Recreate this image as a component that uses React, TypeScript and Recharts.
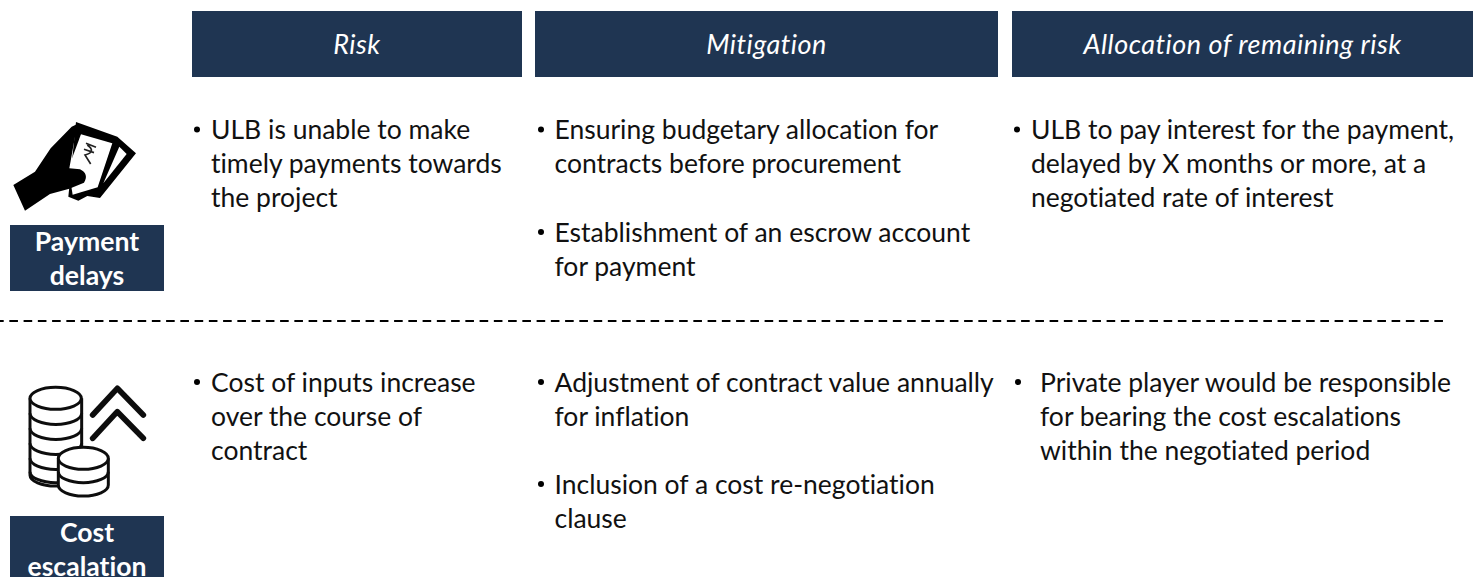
import React from "react";
import { ComposedChart, XAxis, YAxis, ReferenceArea, ReferenceLine, Customized, Line } from "recharts";

const W = 1473;
const H = 577;
const NAVY = "#1f3552";
const FONT = "Lato, 'Noto Sans', sans-serif";

// Content
const columnTitles = ["Risk", "Mitigation", "Allocation of remaining risk"];
const rowTitles = [["Payment", "delays"], ["Cost", "escalation"]];
const paymentRisk = [["ULB is unable to make", "timely payments towards", "the project"]];
const paymentMitigation = [
  ["Ensuring budgetary allocation for", "contracts before procurement"],
  ["Establishment of an escrow account", "for payment"],
];
const paymentAllocation = [["ULB to pay interest for the payment,", "delayed by X months or more, at a", "negotiated rate of interest"]];
const costRisk = [["Cost of inputs increase", "over the course of", "contract"]];
const costMitigation = [
  ["Adjustment of contract value annually", "for inflation"],
  ["Inclusion of a cost re-negotiation", "clause"],
];
const costAllocation = [["Private player would be responsible", "for bearing the cost escalations", "within the negotiated period"]];

// Layout
const headerBoxes = [[192, 522], [535, 998], [1012, 1473]];
const rowBoxes = [[225, 291], [516, 577]];
const LINE = 34;
const blocks = [
  { items: paymentRisk, bx: 197, tx: 211, ys: [138.5] },
  { items: paymentMitigation, bx: 541, tx: 554.5, ys: [138.5, 241] },
  { items: paymentAllocation, bx: 1017, tx: 1031, ys: [138.5] },
  { items: costRisk, bx: 197, tx: 211, ys: [391] },
  { items: costMitigation, bx: 541, tx: 554.5, ys: [391, 493] },
  { items: costAllocation, bx: 1018, tx: 1040, ys: [391] },
];

const headerShape = (title: string) => (p: any) => (
  <g fontFamily={FONT} style={{ fontVariantLigatures: "none" }}>
    <rect x={p.x} y={p.y} width={p.width} height={p.height} fill={NAVY} />
    <text x={p.x + p.width / 2} y={p.y + 43} fill="#fff" fontSize={27} fontStyle="italic" letterSpacing={0.5} textAnchor="middle">{title}</text>
  </g>
);

const rowShape = (lines: string[]) => (p: any) => (
  <g fontFamily={FONT} style={{ fontVariantLigatures: "none" }}>
    <rect x={p.x} y={p.y} width={p.width} height={p.height} fill={NAVY} />
    {lines.map((l, j) => (
      <text key={l} x={p.x + p.width / 2} y={p.y + 26 + j * 34} fill="#fff" fontSize={26.6} fontWeight={700} textAnchor="middle">{l}</text>
    ))}
  </g>
);

const Body = () => (
  <g fontFamily={FONT} style={{ fontVariantLigatures: "none" }}>
    {blocks.map((b, bi) =>
      b.items.map((lines, ii) => (
        <g key={`${bi}-${ii}`}>
          <circle cx={b.bx} cy={b.ys[ii] - 9} r={3} fill="#000" />
          {lines.map((l, li) => (
            <text key={l} x={b.tx} y={b.ys[ii] + 0.5 + li * LINE} fill="#111" fontSize={26.5}>{l}</text>
          ))}
        </g>
      ))
    )}
    <g transform="translate(0,100) scale(0.3333)" filter="url(#soft)">
      <path d="M228 66 L352 110 L408 160 L300 294 L262 288 L235 302 L205 290 Z" fill="#000" />
      <path d="M243 103 L337 130 L293 262 L218 284 L205 205 Z" fill="#fff" />
      <path d="M358 140 L380 162 L310 250 Z" fill="#fff" />
      <path d="M40 255 L105 215 L152 145 L215 80 L232 72 L208 205 L240 208 Q268 222 252 248 L208 266 L150 282 L75 332 Z" fill="#000" />
      <path d="M258 130 L288 142 M252 148 L282 158 M262 135 Q290 155 255 165 L272 192" stroke="#222" strokeWidth={5} fill="none" />
    </g>
    <g transform="translate(0,370) scale(0.3333)" stroke="#111" strokeWidth={9} fill="#fff" filter="url(#soft)">
      <path d="M90 85 L90 315 A77 33 0 0 0 245 315 L245 85" />
      <ellipse cx={167} cy={85} rx={77} ry={33} />
      {[130, 175, 220, 265, 305].map((y) => (
        <path key={y} d={`M90 ${y} A77 33 0 0 0 245 ${y}`} fill="none" />
      ))}
      <path d="M175 265 L175 345 A75 33 0 0 0 325 345 L325 265" />
      <ellipse cx={250} cy={265} rx={75} ry={33} />
      <path d="M175 305 A75 33 0 0 0 325 305" fill="none" />
      <path d="M278 135 L352 55 L430 135 M278 205 L352 125 L430 205" fill="none" strokeWidth={17} strokeLinecap="round" strokeLinejoin="round" />
    </g>
  </g>
);

export default function App() {
  return (
    <div style={{ position: "absolute", left: 0, top: 0 }}>
      <svg width={0} height={0} style={{ position: "absolute" }}>
        <defs>
          <filter id="soft"><feGaussianBlur stdDeviation={0.5} /></filter>
        </defs>
      </svg>
      <ComposedChart width={W} height={H} data={[{ x: 0, y: 0 }, { x: W, y: H }]} margin={{ top: 0, right: 0, bottom: 0, left: 0 }}>
        <XAxis type="number" dataKey="x" domain={[0, W]} hide />
        <YAxis type="number" dataKey="y" domain={[0, H]} reversed hide />
        <Line dataKey="y" stroke="none" dot={false} legendType="none" isAnimationActive={false} />
        {headerBoxes.map(([a, b], i) => (
          <ReferenceArea key={a} x1={a} x2={b} y1={11} y2={77} shape={headerShape(columnTitles[i])} />
        ))}
        {rowBoxes.map(([a, b], i) => (
          <ReferenceArea key={a} x1={10} x2={164} y1={a} y2={b} shape={rowShape(rowTitles[i])} />
        ))}
        <ReferenceLine segment={[{ x: 0, y: 321 }, { x: 1443, y: 321 }]} stroke="#000" strokeWidth={2} strokeDasharray="8.6 5.65" strokeDashoffset={4.9} />
        <Customized component={Body} />
      </ComposedChart>
    </div>
  );
}
